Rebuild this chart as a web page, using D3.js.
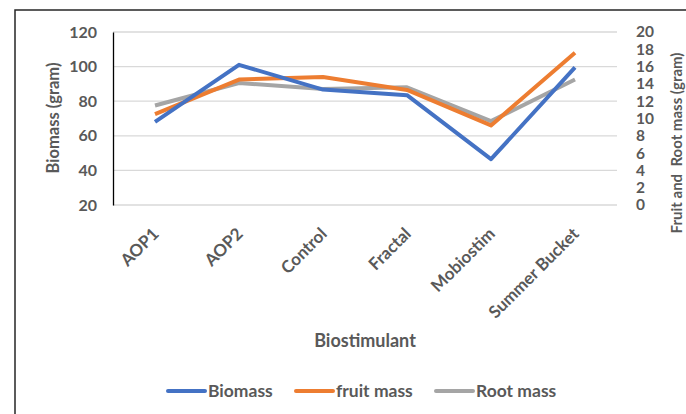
<!DOCTYPE html>
<html>
<head>
<meta charset="utf-8">
<script src="https://cdn.jsdelivr.net/npm/d3@7"></script>
<style>
  body { margin: 0; background: #fff; }
  text { font-family: Lato, 'Open Sans', sans-serif; font-weight: bold; fill: #595959; }
</style>
</head>
<body>
<svg id="grafico"></svg>
<script>
const categorias = ['AOP1', 'AOP2', 'Control', 'Fractal', 'Mobiostim', 'Summer Bucket'];
const biomassa = [68, 101, 86.7, 83.5, 46.5, 99.5];
const massaFruto = [10.5, 14.5, 14.8, 13.3, 9.2, 17.6];
const massaRaiz = [11.5, 14.1, 13.4, 13.6, 9.7, 14.5];
const ticksEsquerda = [20, 40, 60, 80, 100, 120];
const ticksDireita = [0, 2, 4, 6, 8, 10, 12, 14, 16, 18, 20];
const nomesSeries = ['Biomass', 'fruit mass', 'Root mass'];

const largura = 686, altura = 414;
const margem = { esquerda: 113, direita: 69, superior: 32, inferior: 209 };

let svg = d3.select('#grafico')
    .attr('width', largura)
    .attr('height', altura);

// moldura externa
svg.append('rect')
    .attr('x', 15).attr('y', 10)
    .attr('width', 700).attr('height', 430)
    .attr('fill', 'none')
    .attr('stroke', '#262626')
    .attr('stroke-width', 1.5);

const x0 = margem.esquerda, x1 = largura - margem.direita;
const yBase = altura - margem.inferior, yTopo = margem.superior;

let fnX = d3.scalePoint().domain(categorias).range([x0, x1]).padding(0.5);
let fnYEsq = d3.scaleLinear().domain([20, 120]).range([yBase, yTopo]);
let fnYDir = d3.scaleLinear().domain([0, 20]).range([yBase, yTopo]);

// grade
svg.append('g')
    .selectAll('line')
    .data(ticksEsquerda)
    .join('line')
    .attr('x1', x0).attr('x2', x1)
    .attr('y1', d => fnYEsq(d)).attr('y2', d => fnYEsq(d))
    .attr('stroke', '#d9d9d9')
    .attr('stroke-width', 1.3);

// eixo esquerdo
let eixoY = svg.append('g')
    .attr('transform', 'translate(' + x0 + ',0)')
    .call(d3.axisLeft(fnYEsq).tickValues(ticksEsquerda).tickSize(0).tickPadding(16));
eixoY.select('.domain').attr('stroke', '#000').attr('stroke-width', 1.3);
eixoY.selectAll('text').style('font-size', '16px').style('font-family', 'Lato').attr('fill', '#595959');

// eixo direito
let eixoY2 = svg.append('g')
    .attr('transform', 'translate(' + (x1 + 19) + ',0)')
    .call(d3.axisRight(fnYDir).tickValues(ticksDireita).tickSize(0).tickPadding(0));
eixoY2.select('.domain').remove();
eixoY2.selectAll('text').style('font-size', '15.5px').style('font-family', 'Lato').attr('fill', '#595959');

// rótulos das categorias
svg.append('g')
    .selectAll('text')
    .data(categorias)
    .join('text')
    .attr('transform', d => 'translate(' + (fnX(d) + 5) + ',' + (yBase + 30) + ') rotate(-45)')
    .style('text-anchor', 'end')
    .style('font-size', '17px')
    .text(d => d);

// títulos
svg.append('text')
    .attr('transform', 'translate(59,' + 118 + ') rotate(-90)')
    .style('text-anchor', 'middle')
    .style('font-size', '16.5px')
    .text('Biomass (gram)');

svg.append('text')
    .attr('transform', 'translate(682,' + 143 + ') rotate(-90)')
    .style('text-anchor', 'middle')
    .style('font-size', '15px')
    .style('white-space', 'pre')
    .attr('xml:space', 'preserve')
    .text('Fruit and  Root mass (gram)');

svg.append('text')
    .attr('x', (x0 + x1) / 2)
    .attr('y', 347)
    .style('text-anchor', 'middle')
    .style('font-size', '18px')
    .text('Biostimulant');

// linhas
const cores = ['#4472c4', '#ed7d31', '#a5a5a5'];
const series = [
    { nome: nomesSeries[0], valores: biomassa, escala: fnYEsq },
    { nome: nomesSeries[1], valores: massaFruto, escala: fnYDir },
    { nome: nomesSeries[2], valores: massaRaiz, escala: fnYDir }
];

series.slice().reverse().forEach((s) => {
    let i = series.indexOf(s);
    let linha = d3.line()
        .x((d, j) => fnX(categorias[j]))
        .y(d => s.escala(d));
    svg.append('path')
        .datum(s.valores)
        .attr('d', linha)
        .attr('fill', 'none')
        .attr('stroke', cores[i])
        .attr('stroke-width', 4)
        .attr('stroke-linejoin', 'round');
});

// legenda
const legendaX = [168, 296, 436];
let legenda = svg.append('g')
    .selectAll('g')
    .data(series)
    .join('g')
    .attr('transform', (d, i) => 'translate(' + legendaX[i] + ',391)');
legenda.append('line')
    .attr('x1', 0).attr('x2', 37)
    .attr('stroke', (d, i) => cores[i])
    .attr('stroke-width', 4)
    .attr('stroke-linecap', 'round');
legenda.append('text')
    .attr('x', 40)
    .attr('dy', '0.35em')
    .style('font-size', '17.5px')
    .text(d => d.nome);
</script>
</body>
</html>
